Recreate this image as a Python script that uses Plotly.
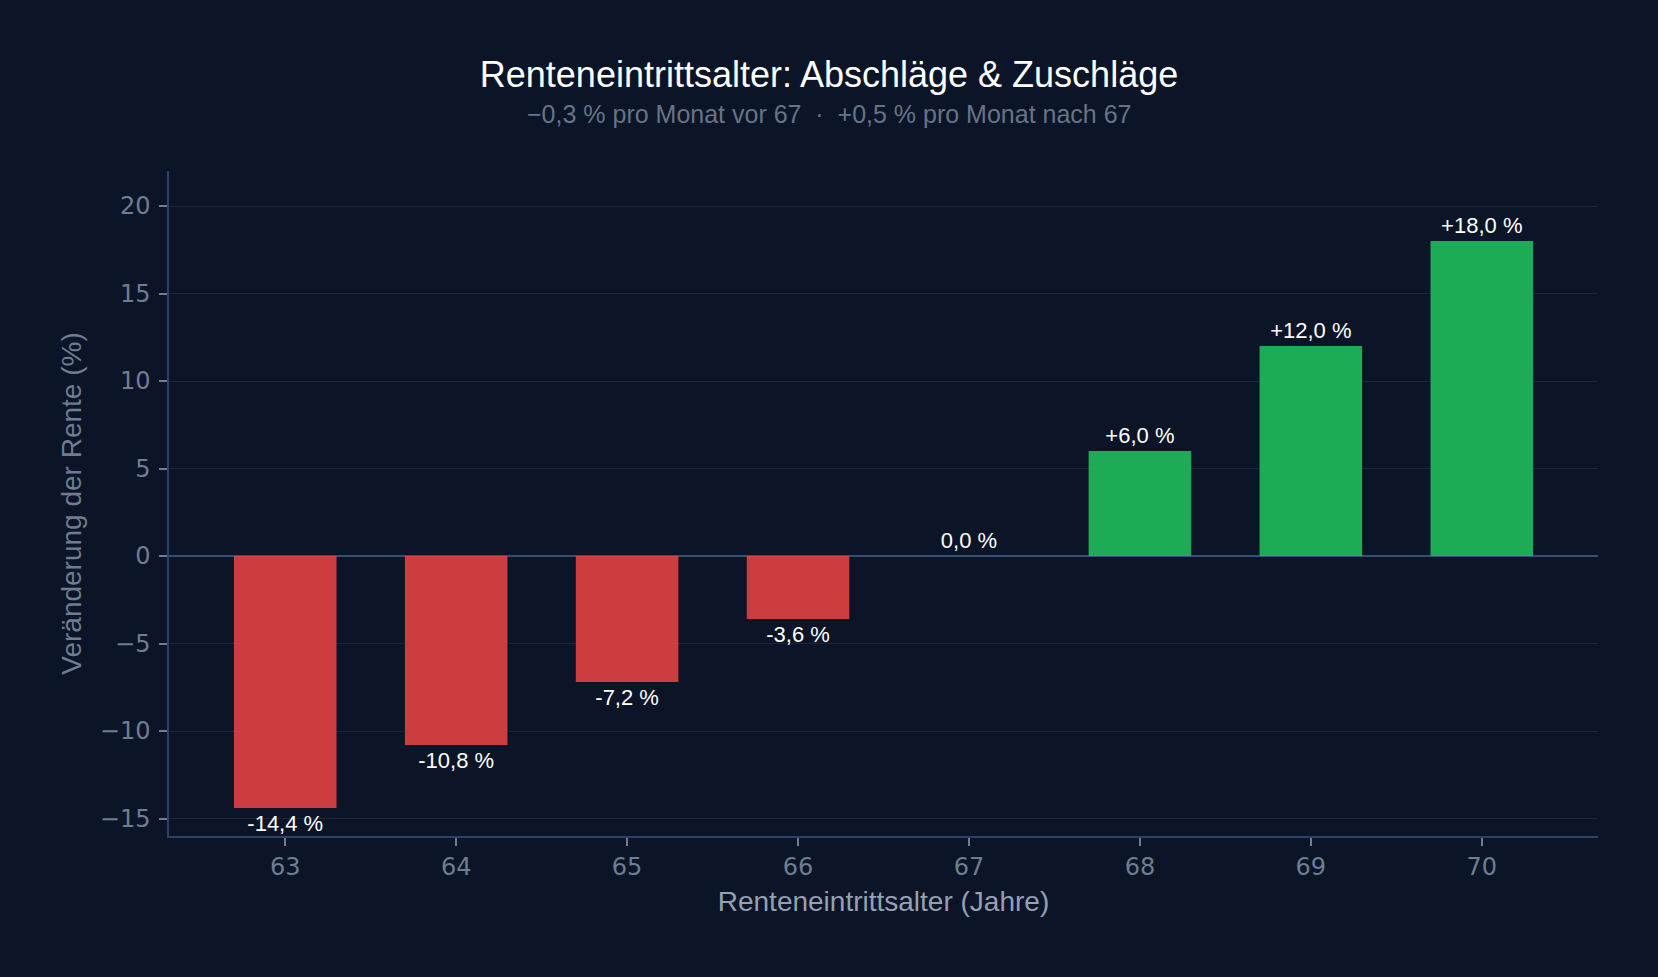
import plotly.graph_objects as go

ages = [63, 64, 65, 66, 67, 68, 69, 70]
change_pct = [-14.4, -10.8, -7.2, -3.6, 0.0, 6.0, 12.0, 18.0]
labels = ["-14,4 %", "-10,8 %", "-7,2 %", "-3,6 %", "0,0 %", "+6,0 %", "+12,0 %", "+18,0 %"]
y_ticks = [-15, -10, -5, 0, 5, 10, 15, 20]
y_tick_text = ["\u221215", "\u221210", "\u22125", "0", "5", "10", "15", "20"]

BG = "#0b1527"
colors = ["#ef4444" if v < 0 else "#22c55e" for v in change_pct]

fig = go.Figure(go.Bar(
    x=ages, y=change_pct, width=0.6,
    marker=dict(color=colors, opacity=0.85, line=dict(width=0)),
    text=labels, textposition="outside", cliponaxis=False,
    textfont=dict(family="Liberation Sans, Arial, sans-serif", size=22, color="#ffffff"),
    hoverinfo="skip",
))

fig.update_layout(
    width=1658, height=977,
    paper_bgcolor=BG, plot_bgcolor=BG,
    margin=dict(l=169, r=60, t=171, b=141),
    showlegend=False,
    title=dict(
        text="Renteneintrittsalter: Abschläge & Zuschläge",
        x=0.5, xanchor="center", xref="container", y=1 - 74 / 977, yanchor="middle",
        font=dict(family="Liberation Sans, Arial, sans-serif", size=36, color="#ffffff"),
    ),
    annotations=[dict(
        text="\u22120,3 % pro Monat vor 67  \u00b7  +0,5 % pro Monat nach 67",
        xref="paper", yref="paper", x=(829 - 169) / 1429, y=(836 - 114) / 665,
        xanchor="center", yanchor="middle", showarrow=False,
        font=dict(family="Liberation Sans, Arial, sans-serif", size=25, color="#667489"),
    )],
    xaxis=dict(
        range=[62.32, 70.68], tickmode="array", tickvals=ages, ticktext=[str(a) for a in ages],
        showgrid=False, zeroline=False,
        showline=True, linecolor="#2a4266", linewidth=1.5,
        ticks="outside", ticklen=8, tickcolor="#6e7d93", tickwidth=1.5,
        tickfont=dict(family="DejaVu Sans, sans-serif", size=24, color="#6e7d93"),
        title=dict(text="Renteneintrittsalter (Jahre)", standoff=12,
                   font=dict(family="Liberation Sans, Arial, sans-serif", size=28, color="#94a0b3")),
    ),
    yaxis=dict(
        range=[-16, 22], tickmode="array", tickvals=y_ticks, ticktext=y_tick_text,
        showgrid=True, gridcolor="#172740", gridwidth=1,
        zeroline=True, zerolinecolor="#33507a", zerolinewidth=2,
        showline=True, linecolor="#2a4266", linewidth=1.5,
        ticks="outside", ticklen=8, tickcolor="#6e7d93", tickwidth=1.5,
        ticklabelstandoff=4,
        tickfont=dict(family="DejaVu Sans, sans-serif", size=24, color="#6e7d93"),
        title=dict(text="Veränderung der Rente (%)", standoff=10,
                   font=dict(family="Liberation Sans, Arial, sans-serif", size=28, color="#6e7d93")),
    ),
)

fig.write_html("out.html")
